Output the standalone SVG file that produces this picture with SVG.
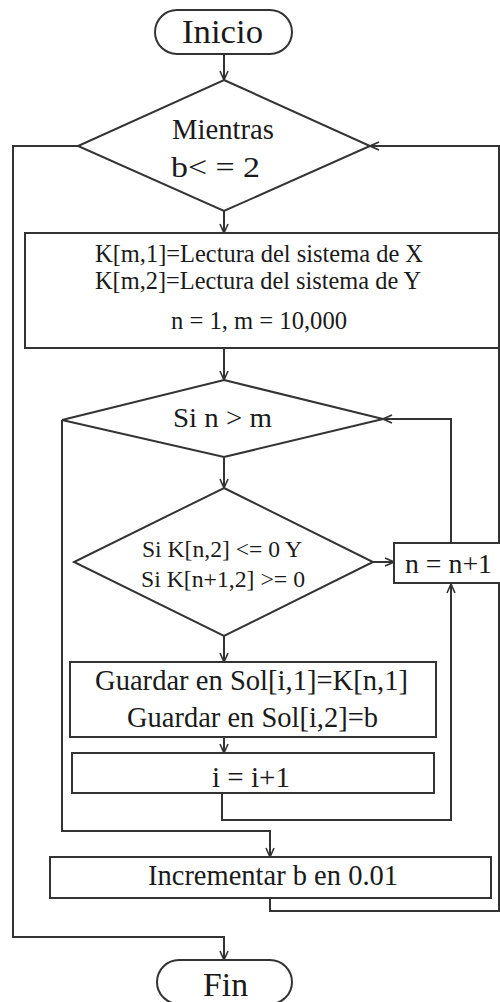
<svg xmlns="http://www.w3.org/2000/svg" width="500" height="1002" viewBox="0 0 500 1002">
<defs>
<marker id="arr" viewBox="0 0 10 10" refX="10" refY="5" markerWidth="10" markerHeight="10" markerUnits="userSpaceOnUse" orient="auto">
<path d="M1,1 L10,5 L1,9" fill="none" stroke="#333" stroke-width="1.6"/>
</marker>
<style>
.s{fill:#fff;stroke:#333;stroke-width:2}
.c{fill:none;stroke:#333;stroke-width:2}
.t{font-family:"Liberation Serif","Times New Roman",serif;fill:#1a1a1a}
</style>
</defs>
<rect width="500" height="1002" fill="#fff"/>
<g id="connectors">
<path class="c" d="M224,54 V80" marker-end="url(#arr)"/>
<path class="c" d="M224,211 V233" marker-end="url(#arr)"/>
<path class="c" d="M224,348 V380" marker-end="url(#arr)"/>
<path class="c" d="M224,457 V488" marker-end="url(#arr)"/>
<path class="c" d="M224,636 V662" marker-end="url(#arr)"/>
<path class="c" d="M224,737 V753" marker-end="url(#arr)"/>
<path class="c" d="M373,562 H394" marker-end="url(#arr)"/>
<path class="c" d="M451,543 V419 H383" marker-end="url(#arr)"/>
<path class="c" d="M222,793 V820 H451 V584" marker-end="url(#arr)"/>
<path class="c" d="M62,420 V831 H270 V857" marker-end="url(#arr)"/>
<path class="c" d="M270,898 V911 H499 V146 H370" marker-end="url(#arr)"/>
<path class="c" d="M78,146 H13 V937 H224 V960" marker-end="url(#arr)"/>
</g>
<g id="inicio">
<rect class="s" x="155" y="10" width="137" height="44" rx="22"/>
<text class="t" x="182" y="43" font-size="34" textLength="81" lengthAdjust="spacingAndGlyphs">Inicio</text>
</g>
<g id="mientras">
<polygon class="s" points="224,80 370,146 224,211 78,146"/>
<text class="t" x="172" y="139" font-size="28.5" textLength="102" lengthAdjust="spacingAndGlyphs">Mientras</text>
<text class="t" x="171" y="177" font-size="28.5" textLength="89" lengthAdjust="spacingAndGlyphs">b&lt; = 2</text>
</g>
<g id="lectura">
<rect class="s" x="25" y="233" width="474" height="115"/>
<text class="t" x="95" y="262" font-size="24.5" textLength="328" lengthAdjust="spacingAndGlyphs">K[m,1]=Lectura del sistema de X</text>
<text class="t" x="95" y="289" font-size="24.5" textLength="326" lengthAdjust="spacingAndGlyphs">K[m,2]=Lectura del sistema de Y</text>
<text class="t" x="171" y="329" font-size="24.5" textLength="176" lengthAdjust="spacingAndGlyphs">n = 1, m = 10,000</text>
</g>
<g id="si-n-m">
<polygon class="s" points="224,380 383,419 224,457 62,420"/>
<text class="t" x="173" y="427" font-size="28" textLength="99" lengthAdjust="spacingAndGlyphs">Si n &gt; m</text>
</g>
<g id="si-k">
<polygon class="s" points="224,488 373,562 224,636 74,562"/>
<text class="t" x="142" y="557" font-size="23.5" textLength="160" lengthAdjust="spacingAndGlyphs">Si K[n,2] &lt;= 0 Y</text>
<text class="t" x="141" y="587" font-size="23.5" textLength="164" lengthAdjust="spacingAndGlyphs">Si K[n+1,2] &gt;= 0</text>
</g>
<g id="n-inc">
<rect class="s" x="394" y="543" width="110" height="40"/>
<text class="t" x="405" y="573" font-size="28" textLength="87" lengthAdjust="spacingAndGlyphs">n = n+1</text>
</g>
<g id="guardar">
<rect class="s" x="70" y="662" width="366" height="75"/>
<text class="t" x="95" y="690" font-size="28.5" textLength="313" lengthAdjust="spacingAndGlyphs">Guardar en Sol[i,1]=K[n,1]</text>
<text class="t" x="127" y="727" font-size="28.5" textLength="251" lengthAdjust="spacingAndGlyphs">Guardar en Sol[i,2]=b</text>
</g>
<g id="i-inc">
<rect class="s" x="72" y="753" width="362" height="40"/>
<text class="t" x="212" y="787" font-size="29" textLength="78" lengthAdjust="spacingAndGlyphs">i = i+1</text>
</g>
<g id="incrementar">
<rect class="s" x="50" y="857" width="441" height="41"/>
<text class="t" x="148" y="885" font-size="28.5" textLength="250" lengthAdjust="spacingAndGlyphs">Incrementar b en 0.01</text>
</g>
<g id="fin">
<rect class="s" x="157" y="960" width="135" height="44" rx="22"/>
<text class="t" x="203" y="996" font-size="34" textLength="45" lengthAdjust="spacingAndGlyphs">Fin</text>
</g>
</svg>
